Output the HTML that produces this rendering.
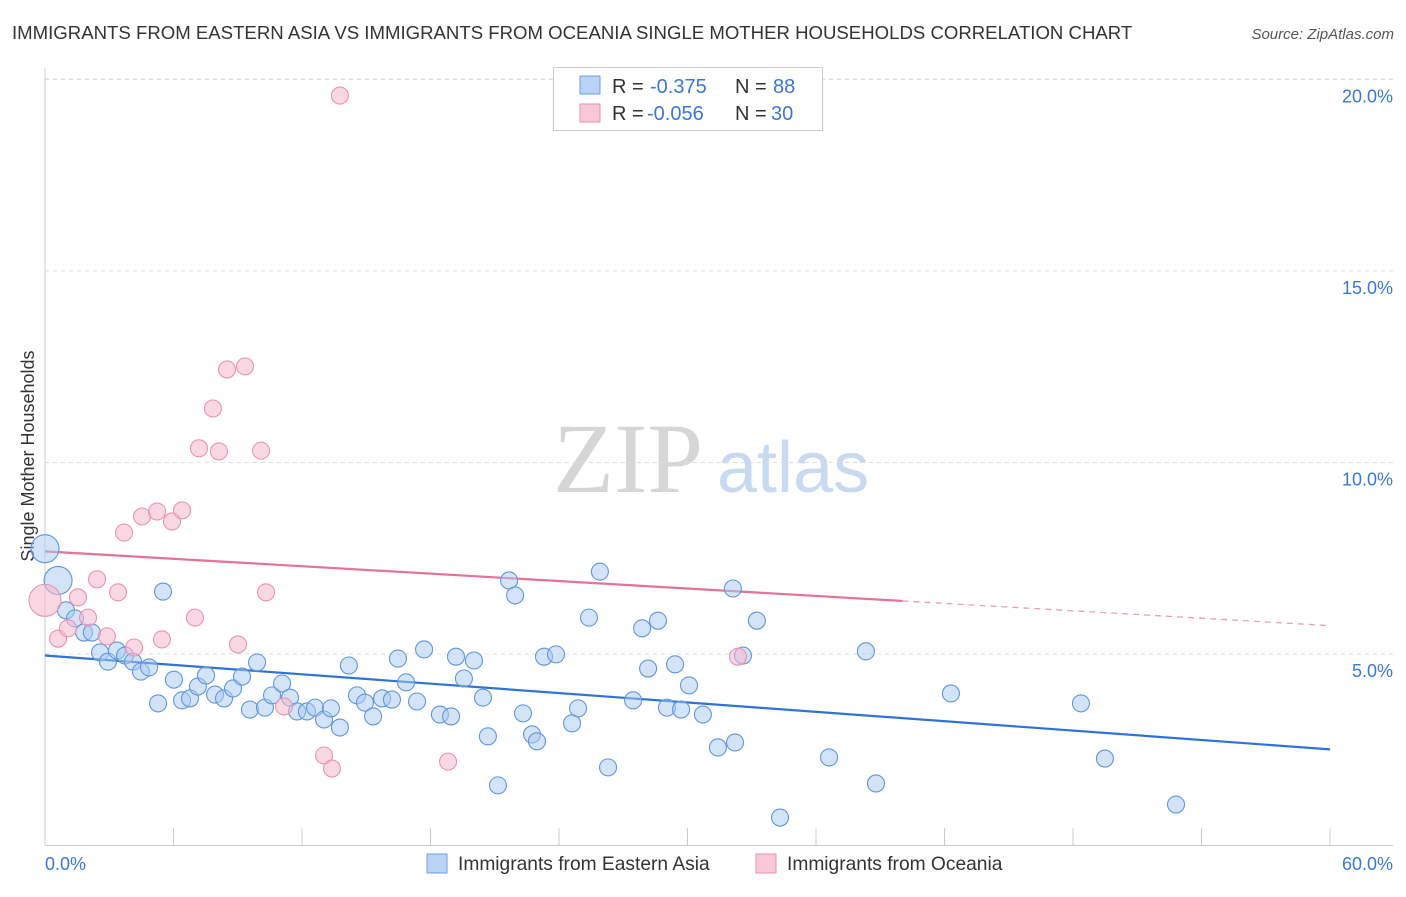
<!DOCTYPE html>
<html><head><meta charset="utf-8"><style>
body{margin:0;background:#fff;font-family:"Liberation Sans",sans-serif;}
</style></head><body>
<svg id="chart" width="1406" height="892" xmlns="http://www.w3.org/2000/svg" font-family="Liberation Sans, sans-serif">
<text x="12" y="39" font-size="18.6" fill="#333">IMMIGRANTS FROM EASTERN ASIA VS IMMIGRANTS FROM OCEANIA SINGLE MOTHER HOUSEHOLDS CORRELATION CHART</text>
<text x="1394" y="39" font-size="15" fill="#555" font-style="italic" text-anchor="end">Source: ZipAtlas.com</text>
<text x="34" y="456" font-size="18" fill="#333" text-anchor="middle" transform="rotate(-90 34 456)">Single Mother Households</text>
<g>
<text x="553" y="492" font-size="100" fill="#d6d6d6" style="font-family:'Liberation Serif',serif">ZIP</text>
<text x="717" y="492" font-size="72" fill="#c8daf2">atlas</text>
</g>
<g id="grid"></g><g id="axes"></g><g id="trends"></g><g id="points"></g>
<g>
<rect x="553.5" y="67.5" width="269" height="63" fill="#fff" stroke="#ccc"/>
<rect x="580" y="76" width="20" height="18" fill="#b9d3f5" stroke="#6a9fe0"/>
<rect x="580" y="104" width="20" height="18" fill="#f8c8d6" stroke="#e890aa"/>
<text x="612" y="93" font-size="20" fill="#333">R = </text>
<text x="650" y="93" font-size="20" fill="#3a78d8">-0.375</text>
<text x="735" y="93" font-size="20" fill="#333">N = </text>
<text x="773" y="93" font-size="20" fill="#3a78d8">88</text>
<text x="612" y="120" font-size="20" fill="#333">R = </text>
<text x="647" y="120" font-size="20" fill="#3a78d8">-0.056</text>
<text x="735" y="120" font-size="20" fill="#333">N = </text>
<text x="771" y="120" font-size="20" fill="#3a78d8">30</text>
</g>
<g>
<rect x="427" y="854" width="20" height="19" fill="#b9d3f5" stroke="#6a9fe0"/>
<text x="458" y="870" font-size="19.2" fill="#333">Immigrants from Eastern Asia</text>
<rect x="756" y="854" width="20" height="19" fill="#f8c8d6" stroke="#e890aa"/>
<text x="787" y="870" font-size="19.2" fill="#333">Immigrants from Oceania</text>
</g>
</svg>
<script>
const yTicks=[5,10,15,20];
const yTickLabels=["5.0%","10.0%","15.0%","20.0%"];
const xTickLabels=["0.0%","60.0%"];
const blueX=[0,0.61,0.98,1.40,1.82,2.19,2.57,2.94,3.36,3.74,4.11,4.48,4.86,5.28,5.51,6.02,6.40,6.77,7.14,7.52,7.94,8.36,8.78,9.20,9.57,9.90,10.27,10.60,11.07,11.44,11.77,12.23,12.61,13.03,13.35,13.77,14.19,14.57,14.94,15.32,15.74,16.20,16.48,16.86,17.37,17.70,18.44,18.96,19.19,19.56,20.03,20.45,20.68,21.15,21.67,21.95,22.32,22.74,22.97,23.30,23.86,24.61,24.89,25.40,25.91,26.29,27.46,27.88,28.16,28.62,29.04,29.42,29.70,30.07,30.72,31.42,32.12,32.22,32.59,33.24,34.32,36.61,38.33,38.80,42.30,48.37,49.49,52.81];
const blueY=[7.75,6.92,6.14,5.93,5.56,5.56,5.04,4.80,5.09,4.96,4.80,4.54,4.65,3.71,6.63,4.33,3.79,3.84,4.15,4.44,3.94,3.84,4.10,4.41,3.55,4.78,3.60,3.92,4.23,3.86,3.50,3.50,3.60,3.29,3.58,3.08,4.70,3.92,3.73,3.37,3.84,3.81,4.88,4.26,3.76,5.12,3.42,3.37,4.93,4.36,4.83,3.86,2.85,1.57,6.92,6.53,3.45,2.90,2.72,4.93,4.99,3.19,3.58,5.95,7.15,2.04,3.79,5.67,4.62,5.87,3.60,4.73,3.55,4.18,3.42,2.56,6.71,2.69,4.96,5.87,0.73,2.30,5.07,1.62,3.97,3.71,2.27,1.07];
const pinkX=[0,0.61,1.07,1.54,2.01,2.43,2.89,3.41,3.69,4.16,4.53,5.23,5.46,5.93,6.40,7.00,7.19,7.84,8.12,8.50,9.34,9.01,10.09,10.32,11.16,13.03,13.40,13.77,18.82,32.36];
const pinkY=[6.40,5.40,5.67,6.48,5.95,6.95,5.46,6.61,8.17,5.17,8.59,8.72,5.38,8.46,8.75,5.95,10.37,11.41,10.29,12.43,12.51,5.25,10.31,6.61,3.63,2.35,2.01,19.58,2.19,4.93];
const blueTrend=[4.96,2.51];
const pinkTrend=[7.68,5.74];
const pinkSolidEnd=40.04;

const NS="http://www.w3.org/2000/svg";
const X0=45,X1=1330,YB=845.5,PPU=38.3;
const sx=v=>X0+(v/60)*(X1-X0);
const sy=v=>YB-v*PPU;
function mk(tag,attrs,parent){const e=document.createElementNS(NS,tag);for(const k in attrs)e.setAttribute(k,attrs[k]);document.getElementById(parent).appendChild(e);return e;}

yTicks.forEach((t,i)=>{
 const l=mk('line',{x1:X0,x2:1393,y1:sy(t),y2:sy(t),stroke:'#ddd','stroke-dasharray':'4,4'},'grid');
 
 
 const tx=mk('text',{x:1393,y:sy(t)+23,'font-size':18,fill:'#3a78d8','text-anchor':'end'},'axes');
 tx.textContent=yTickLabels[i];
 
 
});
const gl=mk('line',{x1:X0,x2:1393,y1:79,y2:79,stroke:'#ddd','stroke-dasharray':'4,4'},'grid');


const ya=mk('line',{x1:X0,x2:X0,y1:68,y2:YB,stroke:'#ccc'},'axes');


const xa=mk('line',{x1:X0,x2:1393,y1:YB,y2:YB,stroke:'#ccc'},'axes');


for(let i=0;i<=10;i++){
 const t=mk('line',{x1:sx(i*6),x2:sx(i*6),y1:828,y2:YB,stroke:'#ccc'},'axes');
 
 
}
[[0,'start',45],[60,'end',1393]].forEach((p,i)=>{
 const tx=mk('text',{x:p[2],y:870,'font-size':18,fill:'#3a78d8','text-anchor':p[1]},'axes');
 tx.textContent=xTickLabels[i];
 
 
});

const bt=mk('line',{x1:sx(0),y1:sy(blueTrend[0]),x2:sx(60),y2:sy(blueTrend[1]),stroke:'#2f73d8','stroke-width':2.2},'trends');


const pAt=x=>pinkTrend[0]+(pinkTrend[1]-pinkTrend[0])*x/60;
const pt=mk('line',{x1:sx(0),y1:sy(pAt(0)),x2:sx(pinkSolidEnd),y2:sy(pAt(pinkSolidEnd)),stroke:'#e5729a','stroke-width':2.2},'trends');


const pd=mk('line',{x1:sx(pinkSolidEnd),y1:sy(pAt(pinkSolidEnd)),x2:sx(60),y2:sy(pAt(60)),stroke:'#e5a0b8','stroke-width':1.3,'stroke-dasharray':'6,5'},'trends');



blueX.forEach((x,i)=>{
 const r=i<2?14:8.5;
 const c=mk('circle',{cx:sx(x),cy:sy(blueY[i]),r:r,fill:'rgba(170,202,242,0.5)',stroke:'#5f96dc','stroke-width':1.1},'points');
 
 
});
pinkX.forEach((x,i)=>{
 const r=i<1?16:8.5;
 const c=mk('circle',{cx:sx(x),cy:sy(pinkY[i]),r:r,fill:'rgba(246,184,204,0.55)',stroke:'#e894b0','stroke-width':1.1},'points');
 
 
});
</script>
</body></html>
